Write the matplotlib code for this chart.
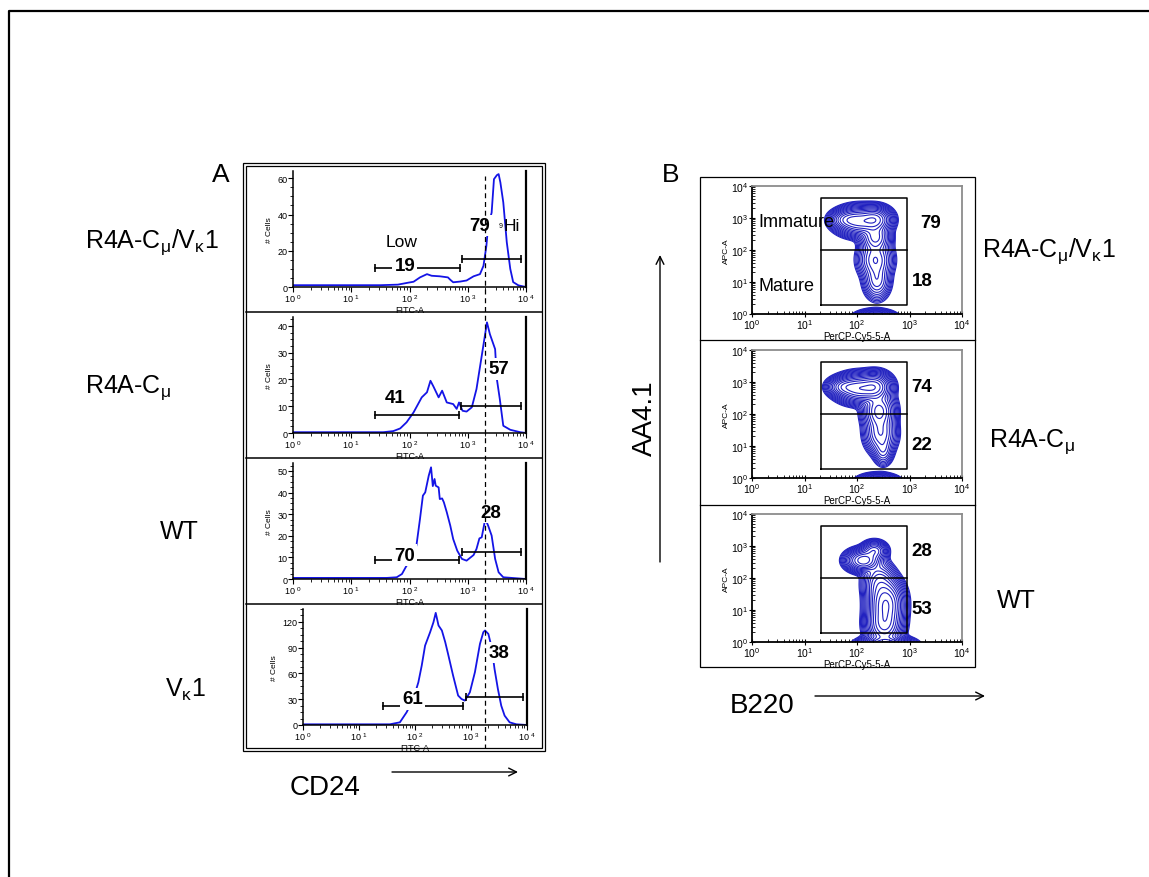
import numpy as np
import matplotlib.pyplot as plt
from matplotlib.patches import Rectangle
from matplotlib.ticker import FixedLocator, FixedFormatter, LogLocator, NullFormatter, MultipleLocator

plt.rcParams['font.family'] = ['Liberation Sans', 'DejaVu Sans']
plt.rcParams['mathtext.fontset'] = 'custom'
plt.rcParams['mathtext.rm'] = 'Liberation Sans'
plt.rcParams['mathtext.it'] = 'Liberation Sans:italic'
plt.rcParams['mathtext.bf'] = 'Liberation Sans:bold'
plt.rcParams['mathtext.default'] = 'regular'

W, H = 1149, 878

# strain names
strains = ['R4A-C$_{μ}$/V$_{κ}$1', 'R4A-C$_{μ}$', 'WT', 'V$_{κ}$1']

# CD24 (FITC-A) histograms, x in log10 units, y in # cells
cd24_logx_cmvk = [0.00, 0.50, 1.00, 1.50, 1.80, 1.98, 2.07, 2.18, 2.30, 2.38, 2.52, 2.66, 2.70, 2.75,
                  2.87, 2.98, 3.10, 3.21, 3.27, 3.32, 3.35, 3.41, 3.45, 3.50, 3.53, 3.56, 3.61, 3.67,
                  3.73, 3.78, 3.87, 4.00]
cd24_cells_cmvk = [1.0, 1.0, 1.0, 1.0, 1.3, 2.4, 2.9, 5.3, 7.1, 6.2, 5.9, 5.3, 4.0, 2.6,
                   3.0, 3.6, 5.9, 7.1, 11.7, 22.7, 33.7, 41.0, 59.5, 61.7, 62.3, 57.7, 46.7, 24.7,
                   10.0, 2.7, 0.9, 0.0]

cd24_logx_cm = [0.00, 1.00, 1.55, 1.72, 1.84, 1.95, 2.07, 2.21, 2.30, 2.36, 2.41, 2.50, 2.56, 2.64,
                2.75, 2.81, 2.85, 2.91, 2.98, 3.07, 3.15, 3.24, 3.33, 3.38, 3.47, 3.50, 3.55, 3.61,
                3.73, 3.90, 4.00]
cd24_cells_cm = [0.3, 0.3, 0.3, 0.7, 1.7, 4.0, 7.7, 13.3, 15.2, 19.5, 17.4, 13.3, 15.8, 11.4,
                 10.8, 9.0, 11.4, 8.3, 8.0, 9.6, 16.4, 28.8, 41.3, 36.9, 31.3, 20.1, 12.7, 2.7,
                 1.2, 0.3, 0.0]

cd24_logx_wt = [0.00, 1.00, 1.61, 1.78, 1.87, 1.95, 2.04, 2.12, 2.18, 2.23, 2.27, 2.33, 2.37, 2.40,
                2.43, 2.45, 2.50, 2.52, 2.56, 2.59, 2.64, 2.70, 2.75, 2.82, 2.90, 2.98, 3.10, 3.15,
                3.20, 3.24, 3.30, 3.35, 3.41, 3.47, 3.53, 3.61, 4.00]
cd24_cells_wt = [0.5, 0.5, 0.5, 0.8, 2.3, 6.2, 7.4, 15.7, 27.8, 38.6, 40.1, 47.8, 51.7, 43.0,
                 46.3, 43.2, 42.4, 37.0, 37.3, 35.5, 30.9, 24.7, 18.5, 13.1, 9.3, 8.5, 11.1, 13.9,
                 18.8, 19.3, 27.8, 24.7, 20.1, 9.3, 3.1, 0.8, 0.0]

cd24_logx_vk = [0.00, 1.00, 1.55, 1.73, 1.85, 1.97, 2.06, 2.12, 2.18, 2.27, 2.33, 2.37, 2.42, 2.48,
                2.54, 2.59, 2.68, 2.77, 2.83, 2.89, 2.98, 3.07, 3.16, 3.22, 3.25, 3.31, 3.37, 3.42,
                3.48, 3.54, 3.60, 3.69, 3.81, 4.00]
cd24_cells_vk = [0.8, 0.8, 0.8, 3.1, 14.8, 30.3, 49.7, 69.1, 92.4, 108, 119.7, 130.5, 115.8, 110,
                 96.4, 82.8, 57.6, 34.3, 30.3, 28.4, 38.1, 61.5, 94.4, 108, 110, 106, 90, 65.3,
                 42, 22.5, 10.9, 3.1, 0.8, 0.0]

cd24_logx = [cd24_logx_cmvk, cd24_logx_cm, cd24_logx_wt, cd24_logx_vk]
cd24_cells = [cd24_cells_cmvk, cd24_cells_cm, cd24_cells_wt, cd24_cells_vk]

# CD24 low / high gates: (log10 start, log10 end, height)
gate_low = [(1.41, 2.86, 10.3), (1.41, 2.85, 6.8), (1.41, 2.85, 8.8), (1.42, 2.85, 21.8)]
gate_high = [(2.90, 3.91, 15.4), (2.88, 3.91, 10.2), (2.90, 3.91, 12.6), (2.91, 3.92, 32.3)]
pct_low = [19, 41, 70, 61]
pct_high = [79, 57, 28, 38]
cd24_cut = 3.30

# AA4.1 vs B220 contour populations: (log B220, log AA4.1, sd x, sd y, weight)
pops_cmvk = [(2.05, 2.90, 0.20, 0.20, 0.9), (2.35, 2.95, 0.14, 0.18, 0.8),
             (1.80, 2.95, 0.14, 0.14, 0.35), (2.35, 2.40, 0.13, 0.22, 0.45),
             (2.35, 1.70, 0.15, 0.28, 0.28), (2.38, 1.05, 0.12, 0.28, 0.18),
             (2.35, -0.15, 0.17, 0.12, 0.5)]
pops_cm = [(2.05, 2.80, 0.20, 0.20, 0.9), (2.35, 2.85, 0.14, 0.20, 0.7),
           (1.75, 2.85, 0.14, 0.14, 0.35), (2.42, 2.10, 0.14, 0.28, 0.42),
           (2.45, 1.40, 0.14, 0.30, 0.25), (2.50, 0.85, 0.09, 0.22, 0.10),
           (2.40, -0.15, 0.17, 0.12, 0.5)]
pops_wt = [(2.12, 2.55, 0.15, 0.16, 0.6), (2.33, 2.85, 0.11, 0.14, 0.3),
           (2.55, 1.20, 0.15, 0.35, 0.9), (2.52, 0.55, 0.15, 0.30, 0.7),
           (2.42, 1.85, 0.14, 0.30, 0.22), (2.55, -0.10, 0.22, 0.12, 0.8)]
aa41_pops = [pops_cmvk, pops_cm, pops_wt]
pct_immature = [79, 74, 28]
pct_mature = [18, 22, 53]
b_gate_x = (21, 915)
b_gate_y = (1.85, 4100)
b_gate_split = 100

fig = plt.figure(figsize=(W / 100, H / 100), dpi=100)


def px_axes(x0, y0, x1, y1):
    return fig.add_axes([x0 / W, 1 - y1 / H, (x1 - x0) / W, (y1 - y0) / H])


# background layer in pixel coordinates: frames, arrows, titles
bg = px_axes(0, 0, W, H)
bg.set_xlim(0, W)
bg.set_ylim(H, 0)
bg.axis('off')
bg.plot([9, 9, W], [H, 12, 12], color='black', lw=1.6)
bg.add_patch(Rectangle((243, 164), 302, 588, fill=False, lw=0.9))
bg.add_patch(Rectangle((246, 167), 296, 582, fill=False, lw=0.9))
for y in (313, 459, 605):
    bg.plot([246, 542], [y, y], color='black', lw=1.1)
bg.add_patch(Rectangle((700, 178), 275, 490, fill=False, lw=0.9))
for y in (341, 506):
    bg.plot([700, 975], [y, y], color='black', lw=0.9)

bg.text(212, 181.5, 'A', fontsize=19, va='baseline')
bg.text(662, 181.5, 'B', fontsize=19, va='baseline')
for (x, y), name in zip([(85, 248), (85, 393), (160, 539), (165, 697)], strains):
    bg.text(x, y, name, fontsize=18, va='baseline')
for (x, y), name in zip([(982, 257), (989, 447), (997, 608)], strains[:3]):
    bg.text(x, y, name, fontsize=18, va='baseline')

bg.text(290, 795, 'CD24', fontsize=20, va='baseline')
bg.text(730, 713, 'B220', fontsize=20, va='baseline')
bg.text(645, 418, 'AA4.1', fontsize=20, rotation=90, ha='center', va='center')
arrow = dict(arrowstyle='->', lw=1.0, color='black', shrinkA=0, shrinkB=0, mutation_scale=14)
bg.annotate('', xy=(518, 773), xytext=(392, 773), arrowprops=arrow)
bg.annotate('', xy=(985, 697), xytext=(815, 697), arrowprops=arrow)
bg.annotate('', xy=(660, 256), xytext=(660, 563), arrowprops=arrow)

# ---- panel A: CD24 histograms
hist_boxes = [(293, 172, 526, 288), (293, 318, 526, 434), (293, 464, 526, 580), (303, 610, 527, 726)]
hist_top = [64, 43.3, 53.7, 135]
hist_step = [20, 10, 10, 30]
low_pos = [(1.92, 12.1), (1.75, 13.3), (1.91, 11.1), (1.96, 30.3)]
high_pos = [(3.21, 33.7), (3.54, 23.9), (3.39, 30.6), (3.51, 84.7)]
blue = '#1414e6'
decade_labels = ['10 $^{0}$', '10 $^{1}$', '10 $^{2}$', '10 $^{3}$', '10 $^{4}$']

for i in range(4):
    ax = px_axes(*hist_boxes[i])
    ax.set_facecolor('none')
    ax.plot(10 ** np.array(cd24_logx[i]), cd24_cells[i], color=blue, lw=1.3, zorder=2)
    ax.set_xscale('log')
    ax.set_xlim(1, 1e4)
    ax.set_ylim(0, hist_top[i])
    ax.spines['top'].set_visible(False)
    ax.spines['right'].set_linewidth(1.6)
    for s in ('left', 'bottom'):
        ax.spines[s].set_linewidth(1.1)
    ax.xaxis.set_major_locator(FixedLocator([1, 10, 100, 1000, 10000]))
    ax.xaxis.set_major_formatter(FixedFormatter(decade_labels))
    ax.xaxis.set_minor_locator(LogLocator(base=10, subs=np.arange(2, 10)))
    ax.xaxis.set_minor_formatter(NullFormatter())
    ax.yaxis.set_major_locator(MultipleLocator(hist_step[i]))
    ax.yaxis.set_minor_locator(MultipleLocator(hist_step[i] / 4))
    ax.tick_params(which='major', length=3.5, width=0.8, labelsize=6.5, pad=0.5)
    ax.tick_params(which='minor', length=2, width=0.6)
    ax.set_xlabel('FITC-A', fontsize=6.5, labelpad=0.5)
    ax.set_ylabel('# Cells', fontsize=6, labelpad=3)

    for (x0, x1, gy), pct, pos in ((gate_low[i], pct_low[i], low_pos[i]),
                                    (gate_high[i], pct_high[i], high_pos[i])):
        ax.plot([10 ** x0, 10 ** x1], [gy, gy], color='black', lw=1.2, zorder=3)
        ax.plot([10 ** x0, 10 ** x1], [gy, gy], ls='none', marker='|', ms=6, mew=1.2,
                color='black', zorder=3)
        ax.text(10 ** pos[0], pos[1], str(pct), fontsize=13.5, fontweight='bold',
                ha='center', va='center', zorder=4,
                bbox=dict(facecolor='white', edgecolor='none', pad=1.5))
    if i == 0:
        ax.text(10 ** 1.87, 25.3, 'Low', fontsize=12.5, ha='center', va='center')
        ax.text(10 ** 3.57, 33.7, '9', fontsize=5, ha='center', va='center')
        ax.text(10 ** 3.75, 33.7, 'Hi', fontsize=12.5, ha='center', va='center')

# CD24 cut line running through all four histograms
cut = px_axes(293, 177, 526, 750)
cut.set_xscale('log')
cut.set_xlim(1, 1e4)
cut.axis('off')
cut.axvline(10 ** cd24_cut, color='black', lw=0.9, ls=(0, (4, 3)))

# ---- panel B: AA4.1 vs B220 contour plots
b_boxes = [(752, 187, 962, 315), (752, 351, 962, 479), (752, 515, 962, 643)]
gx = np.linspace(0, 4, 260)
gy = np.linspace(-1, 4, 320)
GX, GY = np.meshgrid(gx, gy)
sup_labels = ['10$^{0}$', '10$^{1}$', '10$^{2}$', '10$^{3}$', '10$^{4}$']

for i in range(3):
    ax = px_axes(*b_boxes[i])
    z = np.zeros_like(GX)
    for cx, cy, sx, sy, w in aa41_pops[i]:
        z += w * np.exp(-0.5 * (((GX - cx) / sx) ** 2 + ((GY - cy) / sy) ** 2))
    levels = z.max() * np.geomspace(0.006, 0.92, 16)
    ax.contour(10 ** GX, 10 ** GY, z, levels=levels, colors='#2222c0', linewidths=0.8)
    ax.set_xscale('log')
    ax.set_yscale('log')
    ax.set_xlim(1, 1e4)
    ax.set_ylim(1, 1e4)
    for s in ('left', 'bottom'):
        ax.spines[s].set_linewidth(1.3)
    for s in ('top', 'right'):
        ax.spines[s].set_linewidth(1.3)
        ax.spines[s].set_color('#8c8c8c')
    for axis in (ax.xaxis, ax.yaxis):
        axis.set_major_locator(FixedLocator([1, 10, 100, 1000, 10000]))
        axis.set_major_formatter(FixedFormatter(sup_labels))
        axis.set_minor_locator(LogLocator(base=10, subs=np.arange(2, 10)))
        axis.set_minor_formatter(NullFormatter())
    ax.tick_params(which='major', direction='inout', length=4, width=0.8, labelsize=7.5, pad=0.5)
    ax.tick_params(which='minor', direction='in', length=2.5, width=0.6)
    ax.set_xlabel('PerCP-Cy5-5-A', fontsize=7, labelpad=0)
    ax.set_ylabel('APC-A', fontsize=6, labelpad=1)

    gx0, gx1 = b_gate_x
    gy0, gy1 = b_gate_y
    ax.plot([gx0, gx1, gx1, gx0, gx0], [gy0, gy0, gy1, gy1, gy0], color='black', lw=1.1)
    ax.plot([gx0, gx1], [b_gate_split, b_gate_split], color='black', lw=1.1)
    ax.text(10 ** (3.40 if i == 0 else 3.24), 10 ** 2.87, str(pct_immature[i]), fontsize=13.5,
            fontweight='bold', ha='center', va='center')
    ax.text(10 ** 3.24, 10 ** 1.06, str(pct_mature[i]), fontsize=13.5,
            fontweight='bold', ha='center', va='center')
    if i == 0:
        ax.text(10 ** 0.13, 10 ** 2.9, 'Immature', fontsize=13, ha='left', va='center')
        ax.text(10 ** 0.13, 10 ** 0.88, 'Mature', fontsize=13, ha='left', va='center')

fig.savefig('out.png', dpi=100)
